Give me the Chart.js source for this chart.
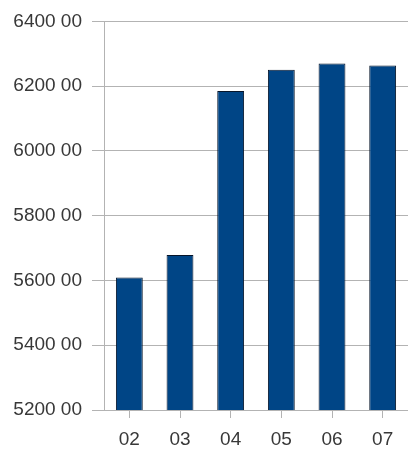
<!DOCTYPE html>
<html>
<head>
<meta charset="utf-8">
<script src="https://cdn.jsdelivr.net/npm/chart.js@4"></script>
<style>
    html, body { margin: 0; padding: 0; background: #fff; }
    #wrap { width: 408px; height: 450px; position: relative; }
</style>
</head>
<body>
<div id="wrap"><canvas id="chart"></canvas></div>
<script>
// Data
const categories = ['02', '03', '04', '05', '06', '07'];
const values = [5609, 5679, 6185, 6251, 6270, 6264];
const yTickValues = [5200, 5400, 5600, 5800, 6000, 6200, 6400];
const yTickLabels = ['5200 00', '5400 00', '5600 00', '5800 00', '6000 00', '6200 00', '6400 00'];

const ctx = document.getElementById('chart').getContext('2d');

new Chart(ctx, {
    type: 'bar',
    data: {
        labels: categories,
        datasets: [{
            data: values,
            backgroundColor: '#004586',
            borderColor: '#06152a',
            borderWidth: 1,
            barPercentage: 0.53,
            categoryPercentage: 1
        }]
    },
    options: {
        responsive: true,
        maintainAspectRatio: false,
        animation: false,
        layout: { padding: { top: 14, right: 0, bottom: 0, left: 0 } },
        plugins: {
            legend: { display: false },
            tooltip: { enabled: false }
        },
        scales: {
            x: {
                offset: true,
                grid: {
                    offset: false,
                    drawOnChartArea: false,
                    drawTicks: true,
                    tickLength: 8,
                    color: '#b3b3b3'
                },
                border: { display: false },
                ticks: {
                    color: '#383838',
                    padding: 10,
                    font: { family: 'Liberation Sans', size: 19 }
                },
                afterFit: function(scale) { scale.height = 40; }
            },
            y: {
                min: 5200,
                max: 6400,
                afterBuildTicks: function(scale) {
                    scale.ticks = yTickValues.map(v => ({ value: v }));
                },
                grid: {
                    color: '#b3b3b3',
                    tickLength: 12
                },
                border: { display: true, color: '#b3b3b3' },
                ticks: {
                    color: '#383838',
                    padding: 10,
                    font: { family: 'Liberation Sans', size: 19 },
                    callback: function(value) {
                        const i = yTickValues.indexOf(value);
                        return i >= 0 ? yTickLabels[i] : '';
                    }
                },
                afterFit: function(scale) { scale.width = 104; }
            }
        }
    }
});
</script>
</body>
</html>
